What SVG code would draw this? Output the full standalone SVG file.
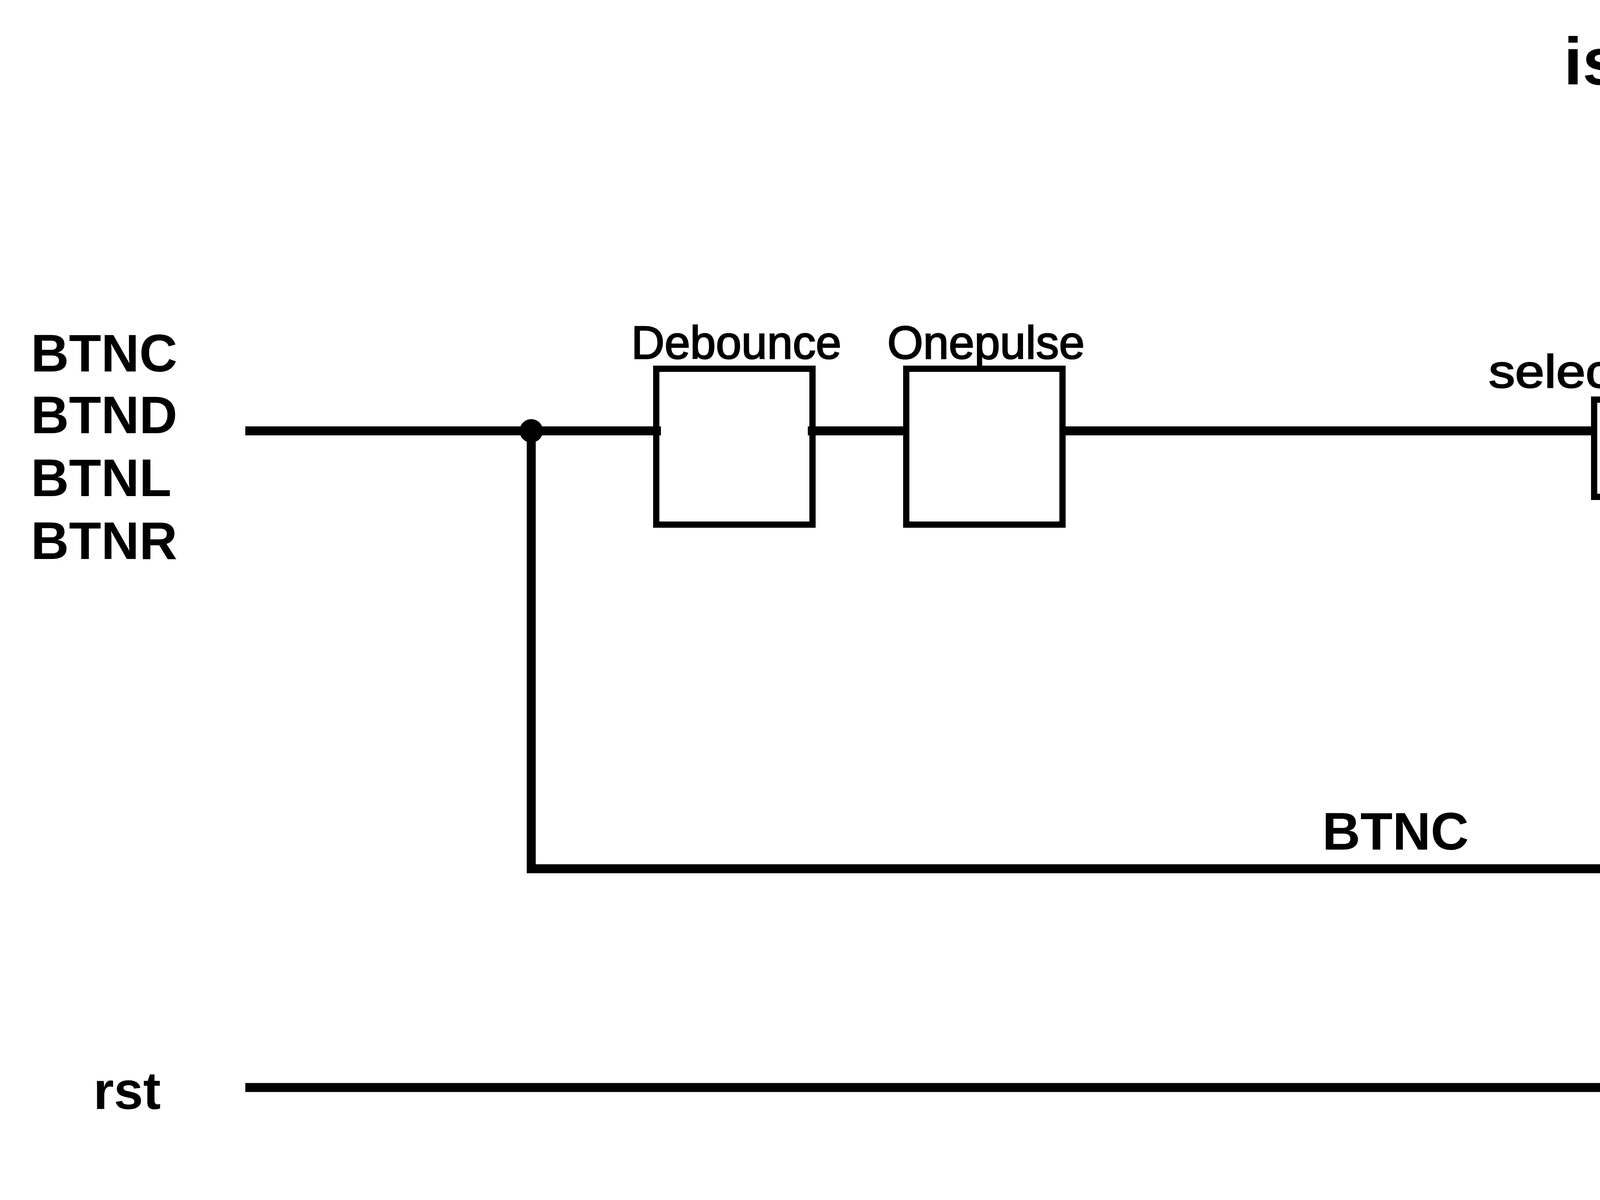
<svg xmlns="http://www.w3.org/2000/svg" width="7088" height="3072" viewBox="0 0 7088 3072">
<style>
.box{fill:none;stroke:#000;stroke-width:16}
.w{fill:none;stroke:#000;stroke-width:23;stroke-linejoin:miter;stroke-linecap:butt}
.lbl{font-family:"Liberation Sans",Arial,sans-serif;font-size:118px;fill:#000;stroke:#000;stroke-width:3;text-anchor:middle}
.big{font-family:"Liberation Sans",Arial,sans-serif;font-size:135px;font-weight:bold;fill:#000}
.top{font-family:"Liberation Sans",Arial,sans-serif;font-size:170px;font-weight:bold;fill:#000;text-anchor:middle}
</style>
<rect width="7088" height="3072" fill="#fff"/>
<g id="inputs">
<text class="big" x="79" y="951">BTNC</text>
<text class="big" x="79" y="1109">BTND</text>
<text class="big" x="79" y="1270">BTNL</text>
<text class="big" x="79" y="1431">BTNR</text>
<text class="big" x="239" y="2839">rst</text>
<text class="top" x="4564" y="216" textLength="1122" lengthAdjust="spacingAndGlyphs">is_top &amp;&amp; out</text>
<text class="big" x="3385" y="2175">BTNC</text>
</g>
<g id="connectors">
<polyline class="w" points="628,1103 1692,1103"/>
<polyline class="w" points="2068,1103 2328,1103"/>
<polyline class="w" points="2712,1103 4089,1103"/>
<polyline class="w" points="1360,1103 1360,2224 4810,2224"/>
<polyline class="w" points="5190,2224 5450,2224"/>
<polyline class="w" points="5831,2224 6478,2224 6478,1253"/>
<polyline class="w" points="628,2784 4810,2784"/>
<polyline class="w" points="5190,2784 5450,2784"/>
<polyline class="w" points="5831,2784 6558,2784 6558,1253"/>
<polyline class="w" points="4400,1253 4400,1663 5210,1663"/>
<polyline class="w" points="4638,292 4638,783 5210,783"/>
<polyline class="w" points="5678,864 6158,864 6158,1103 6328,1103"/>
<polyline class="w" points="5678,1584 6158,1584 6158,1184 6328,1184"/>
<polyline class="w" points="6789,1103 7050,1103"/>
<circle cx="1360" cy="1103" r="30" fill="#000"/>
</g>
<g id="debounce1"><rect class="box" x="1680" y="944" width="400" height="399"/><text class="lbl" x="1885" y="918">Debounce</text></g>
<g id="onepulse1"><rect class="box" x="2320" y="944" width="400" height="399"/><text class="lbl" x="2524" y="918">Onepulse</text></g>
<g id="select_stage"><rect class="box" x="4081" y="1023" width="487" height="249"/><text class="lbl" x="4322" y="992" textLength="1022" lengthAdjust="spacingAndGlyphs">select_stage[3:0]</text></g>
<g id="game_stage"><rect class="box" x="5202" y="703" width="484" height="249"/><text class="lbl" x="5444" y="673" textLength="990" lengthAdjust="spacingAndGlyphs">game_stage[3:0]</text></g>
<g id="finish_stage"><rect class="box" x="5202" y="1504" width="484" height="247"/><text class="lbl" x="5440" y="1472" textLength="1011" lengthAdjust="spacingAndGlyphs">finish_stage[3:0]</text></g>
<g id="state"><rect class="box" x="6320" y="944" width="477" height="320"/><text class="lbl" x="6562" y="916" textLength="289" lengthAdjust="spacingAndGlyphs">state</text></g>
<g id="debounce2"><rect class="box" x="4802" y="2065" width="396" height="398"/><text class="lbl" x="5002" y="2037">Debounce</text></g>
<g id="onepulse2"><rect class="box" x="5442" y="2065" width="397" height="398"/><text class="lbl" x="5644" y="2037">Onepulse</text></g>
<g id="debounce3"><rect class="box" x="4802" y="2626" width="396" height="397"/><text class="lbl" x="5002" y="2598">Debounce</text></g>
<g id="onepulse3"><rect class="box" x="5442" y="2626" width="397" height="397"/><text class="lbl" x="5644" y="2598">Onepulse</text></g>
</svg>
